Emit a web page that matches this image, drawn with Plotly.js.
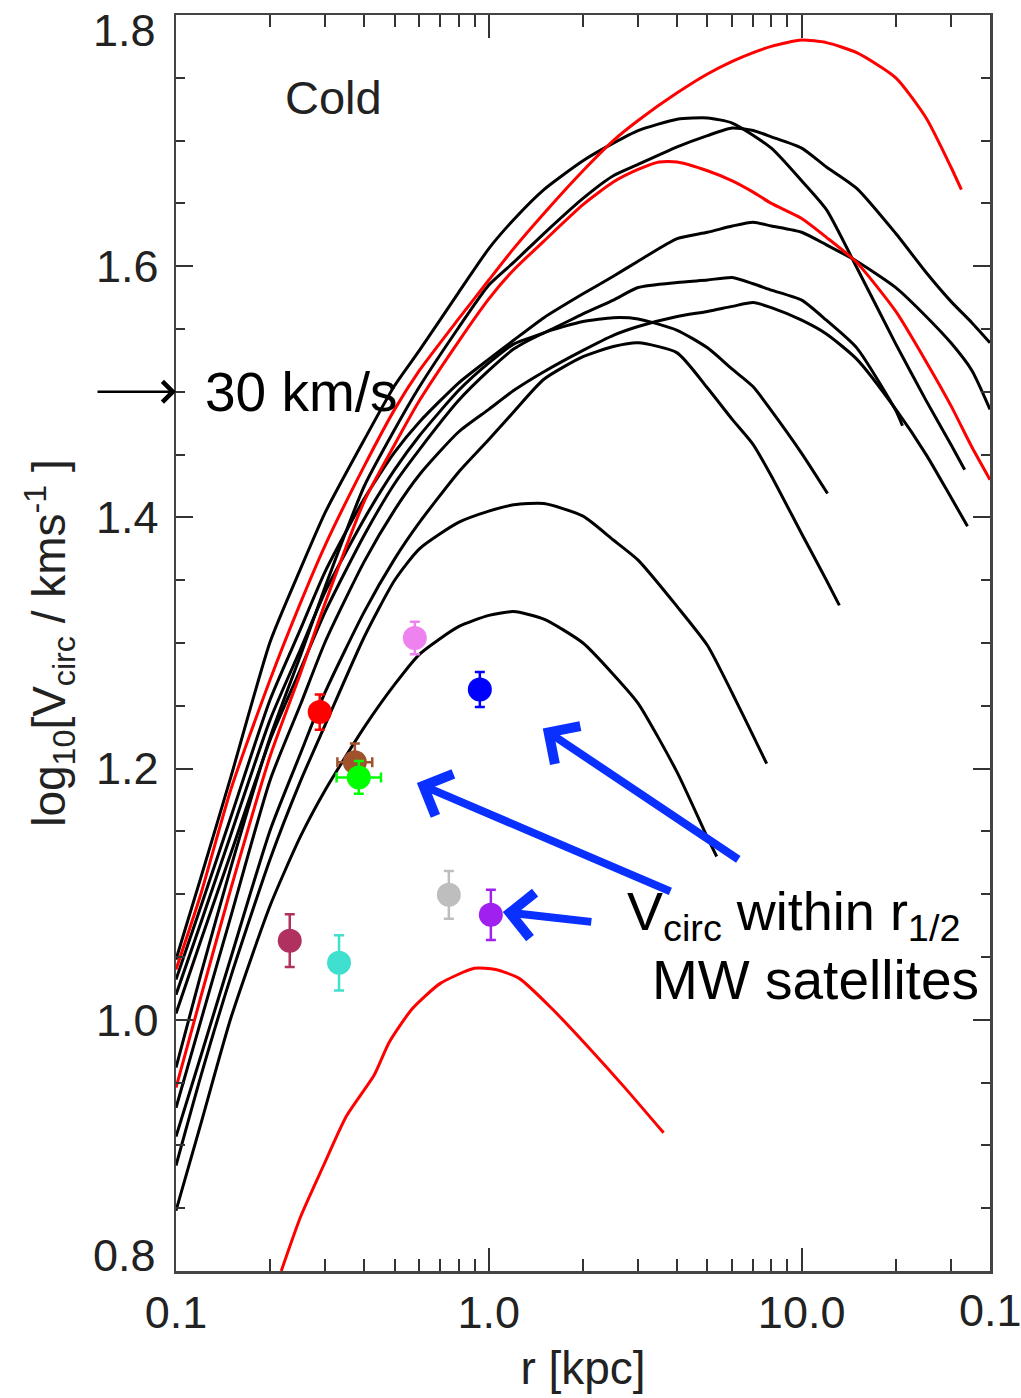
<!DOCTYPE html>
<html><head><meta charset="utf-8">
<script src="https://cdn.plot.ly/plotly-3.0.1.min.js"></script>
<style>html,body{margin:0;padding:0;background:#fff}#plot{width:1021px;height:1398px}</style>
</head><body><div id="plot"></div>
<script>
// ---- Circular velocity curves (r in kpc, log10 Vcirc) ----
const rP1 = [0.1,0.12,0.15,0.2,0.25,0.3,0.4,0.5,0.6,0.8,1,1.2,1.5,2,2.5,3,4,5,6,8,10,12,15,20,25,30,33.2];
const vP1 = [1.048,1.113,1.194,1.301,1.359,1.404,1.462,1.505,1.533,1.579,1.614,1.637,1.661,1.684,1.698,1.708,1.717,1.718,1.714,1.694,1.668,1.645,1.599,1.538,1.493,1.458,1.438];

const rP2 = [0.1,0.12,0.15,0.2,0.25,0.3,0.4,0.5,0.6,0.8,1,1.2,1.5,2,2.5,3,4,5,6,7,8,10,12,15,20,25,30,35,40];
const vP2 = [0.962,1.036,1.122,1.225,1.290,1.345,1.425,1.470,1.504,1.551,1.585,1.603,1.626,1.654,1.672,1.681,1.695,1.704,1.710,1.708,1.703,1.694,1.679,1.662,1.626,1.595,1.572,1.555,1.539];

const rP3 = [0.1,0.12,0.15,0.2,0.25,0.3,0.4,0.5,0.6,0.8,1,1.2,1.5,2,2.5,3,4,5,6,7,8,10,12,15,20,25,30,35,40];
const vP3 = [1.032,1.090,1.162,1.255,1.311,1.357,1.415,1.452,1.476,1.507,1.526,1.541,1.559,1.578,1.592,1.604,1.622,1.627,1.632,1.635,1.632,1.627,1.617,1.604,1.583,1.560,1.539,1.517,1.486];

const rP4 = [0.1,0.12,0.15,0.2,0.25,0.3,0.4,0.5,0.6,0.8,1,1.2,1.5,2,2.5,3,4,5,6,7,8,10,12,15,20,21];
const vP4 = [1.020,1.077,1.148,1.239,1.295,1.341,1.399,1.438,1.465,1.501,1.523,1.538,1.547,1.562,1.573,1.583,1.587,1.589,1.591,1.586,1.581,1.573,1.557,1.535,1.485,1.473];

const rP5 = [0.1,0.12,0.15,0.2,0.25,0.3,0.4,0.5,0.6,0.8,1,1.2,1.5,2,2.5,3,4,5,6,7,8,10,12,15,20,25,30,33.9];
const vP5 = [0.930,0.999,1.083,1.191,1.251,1.301,1.365,1.406,1.434,1.468,1.486,1.501,1.516,1.533,1.545,1.552,1.560,1.564,1.568,1.571,1.567,1.557,1.546,1.526,1.486,1.450,1.416,1.393];

const rP6 = [0.1,0.12,0.15,0.2,0.25,0.3,0.4,0.5,0.6,0.8,1,1.2,1.5,2,2.5,3,4,5,6,7,8,10,12.1];
const vP6 = [1.005,1.063,1.133,1.223,1.279,1.325,1.386,1.427,1.454,1.493,1.517,1.534,1.547,1.556,1.559,1.558,1.549,1.535,1.518,1.504,1.485,1.451,1.419];

const rP7 = [0.1,0.12,0.15,0.2,0.25,0.3,0.4,0.5,0.6,0.8,1,1.2,1.5,2,2.5,3,4,5,6,7,8,10,12,13.2];
const vP7 = [0.907,0.971,1.050,1.151,1.212,1.261,1.325,1.367,1.396,1.436,1.462,1.484,1.510,1.528,1.536,1.539,1.531,1.503,1.478,1.458,1.433,1.387,1.350,1.330];

const rP8 = [0.1,0.12,0.15,0.2,0.25,0.3,0.4,0.5,0.6,0.8,1,1.2,1.5,2,2.5,3,4,5,6,7,7.73];
const vP8 = [0.884,0.955,1.035,1.128,1.190,1.235,1.305,1.350,1.375,1.396,1.405,1.410,1.411,1.401,1.382,1.366,1.329,1.298,1.260,1.226,1.204];

const rP9 = [0.1,0.12,0.15,0.2,0.25,0.3,0.4,0.5,0.6,0.8,1,1.2,1.5,2,2.5,3,4,5,5.35];
const vP9 = [0.848,0.917,1.002,1.091,1.146,1.183,1.233,1.267,1.291,1.313,1.322,1.325,1.319,1.300,1.275,1.252,1.197,1.145,1.130];

const rR1 = [0.1,0.12,0.15,0.2,0.25,0.3,0.4,0.5,0.6,0.8,1,1.2,1.5,2,2.5,3,4,5,6,7,8,10,12,15,20,25,30,32.4];
const vR1 = [1.040,1.100,1.184,1.271,1.332,1.378,1.441,1.486,1.517,1.558,1.589,1.614,1.642,1.676,1.700,1.716,1.738,1.753,1.763,1.770,1.775,1.780,1.778,1.770,1.750,1.718,1.679,1.661];

const rR2 = [0.1,0.12,0.15,0.2,0.25,0.3,0.4,0.5,0.6,0.8,1,1.2,1.5,2,2.5,3,3.5,4,5,6,7,8,10,12,15,20,25,30,35,40];
const vR2 = [0.946,1.018,1.105,1.210,1.276,1.332,1.413,1.458,1.493,1.540,1.574,1.597,1.620,1.649,1.667,1.677,1.683,1.683,1.676,1.668,1.659,1.650,1.638,1.623,1.603,1.564,1.524,1.489,1.456,1.430];

const rR3 = [0.217,0.25,0.295,0.35,0.43,0.48,0.57,0.70,0.90,1.05,1.25,1.59,2.12,2.72,3.62];
const vR3 = [0.800,0.843,0.883,0.923,0.956,0.982,1.009,1.029,1.041,1.040,1.033,1.009,0.976,0.946,0.910];

// ---- MW satellites: Vcirc within r_1/2 ----
const satNames  = ['red','violet','blue','brown','green','gray','purple','maroon','turquoise'];
const satR      = [0.288,0.580,0.936,0.373,0.384,0.745,1.015,0.231,0.332];
const satV      = [1.245,1.304,1.263,1.205,1.193,1.0995,1.0836,1.063,1.0454];
const satVerr   = [0.014,0.013,0.014,0.015,0.013,0.019,0.020,0.021,0.022];
const satRerrPlus  = [0,0,0,0.051,0.068,0,0,0,0];
const satRerrMinus = [0,0,0,0.045,0.058,0,0,0,0];
const satColors = ['#ff0000','#ee82ee','#0000ff','#a0522d','#00ff00','#bebebe','#a020f0','#b03060','#40e0d0'];

// ---- axis ticks ----
const xTickVals = [0.1,1,10];
const xTickText = ['0.1','1.0','10.0'];
const xMinorVals = [0.2,0.3,0.4,0.5,0.6,0.7,0.8,0.9,2,3,4,5,6,7,8,9,20,30];
const yTickVals = [0.8,1.0,1.2,1.4,1.6,1.8];
// end labels (0.8, 1.8) are drawn nudged inside the frame, as in the original
const yTickText = ['','1.0','1.2','1.4','1.6',''];
const yEndLabels = ['0.8','1.8'];

const blackCurves = [[rP1,vP1],[rP2,vP2],[rP3,vP3],[rP4,vP4],[rP5,vP5],[rP6,vP6],[rP7,vP7],[rP8,vP8],[rP9,vP9]];
const redCurves = [[rR1,vR1],[rR2,vR2],[rR3,vR3]];

const traces = [];
blackCurves.forEach(c => traces.push({x:c[0], y:c[1], mode:'lines', line:{color:'#000', width:3, shape:'spline', smoothing:0.6}, hoverinfo:'skip', showlegend:false}));
redCurves.forEach(c => traces.push({x:c[0], y:c[1], mode:'lines', line:{color:'#ff0000', width:3, shape:'spline', smoothing:0.6}, hoverinfo:'skip', showlegend:false}));

satNames.forEach((n,i) => {
  const t = {
    x:[satR[i]], y:[satV[i]], mode:'markers', name:n, showlegend:false,
    marker:{size:24, color:satColors[i]},
    error_y:{type:'data', array:[satVerr[i]], color:satColors[i], thickness:2.5, width:5}
  };
  if (satRerrPlus[i] > 0) {
    t.error_x = {type:'data', symmetric:false, array:[satRerrPlus[i]], arrayminus:[satRerrMinus[i]], color:satColors[i], thickness:2.5, width:5};
  }
  traces.push(t);
});

const FONT = 'Liberation Sans, Arial, Helvetica, sans-serif';
const BLUE = '#0a30ff';

const layout = {
  width:1021, height:1398,
  margin:{l:176, r:31, t:15, b:127, pad:0},
  paper_bgcolor:'#fff', plot_bgcolor:'#fff',
  font:{family:FONT, color:'#222'},
  showlegend:false,
  xaxis:{
    type:'log', range:[-1, Math.log10(40)],
    tickmode:'array', tickvals:xTickVals, ticktext:xTickText,
    ticks:'inside', ticklen:23, tickwidth:2, tickcolor:'#333',
    showline:true, linecolor:'#444', linewidth:2.5, mirror:'ticks',
    showgrid:false, zeroline:false, ticklabeloverflow:'allow',
    tickfont:{size:45, color:'#222', family:FONT},
    title:{text:'r [kpc]', font:{size:46, color:'#222', family:FONT}, standoff:16},
    minor:{tickmode:'array', tickvals:xMinorVals, ticks:'inside', ticklen:12, tickwidth:2, tickcolor:'#333', showgrid:false}
  },
  yaxis:{
    range:[0.8,1.8], tickmode:'array', tickvals:yTickVals, ticktext:yTickText,
    ticks:'inside', ticklen:17, tickwidth:2, tickcolor:'#333',
    showline:true, linecolor:'#444', linewidth:2.5, mirror:'ticks',
    showgrid:false, zeroline:false, ticklabeloverflow:'allow',
    tickfont:{size:45, color:'#222', family:FONT},
    ticklabelstandoff:6,
    title:{text:'log<sub>10</sub>[V<sub>circ</sub> / kms<sup>-1</sup> ]', font:{size:46, color:'#222', family:FONT}, standoff:16},
    minor:{dtick:0.05, tick0:0.8, ticks:'inside', ticklen:9, tickwidth:2, tickcolor:'#333', showgrid:false}
  },
  annotations:[
    {text:yEndLabels[1], xref:'paper', yref:'paper', x:-0.0221, y:0.988, xanchor:'right', yanchor:'middle', showarrow:false, font:{size:45, color:'#222', family:FONT}},
    {text:yEndLabels[0], xref:'paper', yref:'paper', x:-0.0221, y:0.0127, xanchor:'right', yanchor:'middle', showarrow:false, font:{size:45, color:'#222', family:FONT}},
    {text:'Cold', xref:'paper', yref:'paper', x:0.193, y:0.9347, xanchor:'center', yanchor:'middle', showarrow:false, font:{size:47, color:'#222', family:FONT}},
    {text:'30 km/s', xref:'paper', yref:'y', x:0.0332, y:1.5, xanchor:'left', yanchor:'middle', showarrow:false, font:{size:55, color:'#000', family:FONT}},
    {text:'', xref:'paper', yref:'y', x:0, y:1.5, ax:-80, ay:0, showarrow:true, arrowhead:4, arrowsize:1.6, arrowwidth:2.5, arrowcolor:'#000'},
    {text:'', xref:'x', yref:'y', x:0.1725, y:1.232, ax:197, ay:132, showarrow:true, arrowhead:4, arrowsize:1.1, arrowwidth:8, arrowcolor:BLUE},
    {text:'', xref:'x', yref:'y', x:-0.230, y:1.1885, ax:255, ay:109, showarrow:true, arrowhead:4, arrowsize:1.1, arrowwidth:8, arrowcolor:BLUE},
    {text:'', xref:'x', yref:'y', x:0.0447, y:1.0858, ax:90, ay:10, showarrow:true, arrowhead:4, arrowsize:1.1, arrowwidth:8, arrowcolor:BLUE},
    {text:'V<sub>circ</sub> within r<sub>1/2</sub>', xref:'paper', yref:'paper', x:0.5516, y:0.2834, xanchor:'left', yanchor:'middle', showarrow:false, font:{size:54, color:'#000', family:FONT}},
    {text:'MW satellites', xref:'paper', yref:'paper', x:0.5823, y:0.2317, xanchor:'left', yanchor:'middle', showarrow:false, font:{size:55, color:'#000', family:FONT}},
    {text:'0.1', xref:'paper', yref:'paper', x:1, y:-0.0095, xanchor:'center', yanchor:'top', showarrow:false, font:{size:45, color:'#222', family:FONT}}
  ]
};

Plotly.newPlot('plot', traces, layout, {staticPlot:true, displayModeBar:false});
</script></body></html>
